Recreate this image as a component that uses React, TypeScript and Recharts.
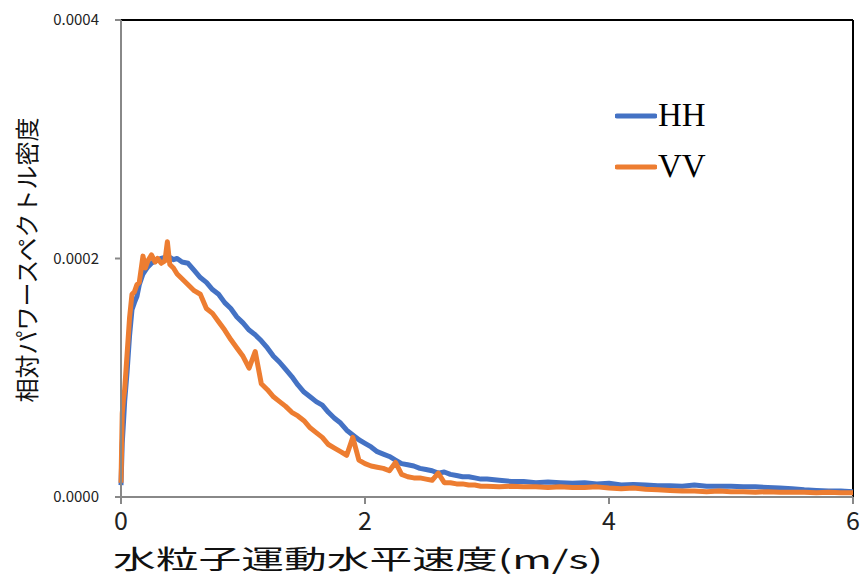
import React from 'react';
import { LineChart, Line, XAxis, YAxis, ReferenceLine, Legend, Label } from 'recharts';

// horizontal velocity (m/s)
const velocity = [
  0, 0.01, 0.02, 0.03, 0.05, 0.07, 0.09, 0.11, 0.13, 0.15, 0.18, 0.2, 0.22, 0.25, 0.28, 0.3, 0.33, 0.36, 0.38, 0.4,
  0.43, 0.46, 0.5, 0.55, 0.6, 0.65, 0.7, 0.75, 0.8, 0.85, 0.9, 0.95, 1.0, 1.05, 1.1, 1.15, 1.2, 1.25, 1.3, 1.35,
  1.4, 1.45, 1.5, 1.55, 1.6, 1.65, 1.7, 1.75, 1.8, 1.85, 1.9, 1.95, 2.0, 2.05, 2.1, 2.15, 2.2, 2.25, 2.3, 2.35,
  2.4, 2.45, 2.5, 2.55, 2.6, 2.65, 2.7, 2.75, 2.8, 2.85, 2.9, 2.95, 3.0, 3.1, 3.2, 3.3, 3.4, 3.5, 3.6, 3.7,
  3.8, 3.9, 4.0, 4.1, 4.2, 4.3, 4.4, 4.5, 4.6, 4.7, 4.8, 4.9, 5.0, 5.1, 5.2, 5.3, 5.4, 5.5, 5.6, 5.7,
  5.8, 5.9, 6.0,
];

// relative power spectral density, in units of 1e-4
const hh = [
  0.1, 0.45, 0.62, 0.8, 1.05, 1.35, 1.57, 1.63, 1.68, 1.78, 1.87, 1.9, 1.93, 1.96, 1.98, 1.99, 2.0, 2.01, 2.0, 2.01,
  1.99, 2.0, 1.97, 1.96, 1.9, 1.84, 1.8, 1.74, 1.7, 1.63, 1.58, 1.51, 1.46, 1.4, 1.36, 1.31, 1.25, 1.18, 1.13, 1.07,
  1.01, 0.94, 0.88, 0.84, 0.8, 0.77, 0.71, 0.66, 0.62, 0.56, 0.52, 0.48, 0.45, 0.42, 0.38, 0.36, 0.34, 0.31, 0.28, 0.27,
  0.26, 0.24, 0.23, 0.22, 0.2, 0.21, 0.19, 0.18, 0.17, 0.17, 0.16, 0.15, 0.15, 0.14, 0.13, 0.13, 0.12, 0.125, 0.12, 0.115,
  0.12, 0.11, 0.115, 0.1, 0.105, 0.1, 0.095, 0.095, 0.09, 0.1, 0.09, 0.09, 0.09, 0.085, 0.085, 0.08, 0.075, 0.07, 0.06, 0.055,
  0.05, 0.05, 0.045,
];

const vv = [
  0.12, 0.7, 0.82, 0.9, 1.2, 1.5, 1.7, 1.72, 1.78, 1.8, 2.02, 1.92, 1.98, 2.03, 1.97, 2.0, 1.96, 1.98, 2.14, 1.95,
  1.92, 1.87, 1.83, 1.78, 1.73, 1.7, 1.58, 1.54, 1.47, 1.4, 1.32, 1.25, 1.18, 1.08, 1.22, 0.95, 0.9, 0.84, 0.8, 0.76,
  0.71, 0.68, 0.64, 0.58, 0.54, 0.5, 0.44, 0.41, 0.38, 0.35, 0.5, 0.31, 0.28, 0.26, 0.25, 0.24, 0.22, 0.29, 0.19, 0.17,
  0.16, 0.16, 0.15, 0.14, 0.2, 0.12, 0.12, 0.11, 0.11, 0.1, 0.1, 0.09, 0.09, 0.085, 0.09, 0.085, 0.085, 0.08, 0.085, 0.08,
  0.08, 0.085, 0.075, 0.07, 0.075, 0.065, 0.06, 0.055, 0.05, 0.05, 0.045, 0.05, 0.045, 0.045, 0.04, 0.045, 0.04, 0.04, 0.04, 0.035,
  0.04, 0.035, 0.035,
];

const xTicks = [0, 2, 4, 6];
const yTicks = [0, 0.0002, 0.0004];

const data = velocity.map((v, i) => ({ v, HH: hh[i] * 1e-4, VV: vv[i] * 1e-4 }));

const BLUE = '#4472C4';
const ORANGE = '#ED7D31';
const SANS = '"Noto Sans CJK JP", "Noto Sans", sans-serif';

const LegendBox = () => (
  <div style={{ fontFamily: '"Liberation Serif", "DejaVu Serif", serif' }}>
    {[
      { name: 'HH', color: BLUE },
      { name: 'VV', color: ORANGE },
    ].map((s) => (
      <div key={s.name} style={{ display: 'flex', alignItems: 'center', height: 51 }}>
        <svg width={42} height={10}>
          <line x1={2} y1={5} x2={40} y2={5} stroke={s.color} strokeWidth={5} strokeLinecap="round" />
        </svg>
        <span style={{ fontSize: 33, color: '#000', marginLeft: 1 }}>{s.name}</span>
      </div>
    ))}
  </div>
);

export default function App() {
  return (
    <div style={{ position: 'absolute', left: 0, top: 0, width: 862, height: 576, background: '#fff' }}>
      <LineChart width={862} height={576} data={data} margin={{ top: 20, right: 9, bottom: 39, left: 21 }}>
        <XAxis
          dataKey="v"
          type="number"
          domain={[0, 6]}
          ticks={xTicks}
          height={40}
          stroke="#888"
          strokeWidth={2}
          tickSize={7}
          tickMargin={8}
          tick={{ fill: '#222', fontSize: 25, fontFamily: SANS }}
        >
          <Label
            content={() => (
              <text
                x={113}
                y={569}
                fontSize={26}
                fontFamily={SANS}
                fill="#111"
                textLength={490}
                lengthAdjust="spacingAndGlyphs"
              >
                水粒子運動水平速度(m/s)
              </text>
            )}
          />
        </XAxis>
        <YAxis
          type="number"
          domain={[0, 0.0004]}
          ticks={yTicks}
          width={100}
          stroke="#888"
          strokeWidth={2}
          tickSize={6}
          tickMargin={16}
          tickFormatter={(t: number) => t.toFixed(4)}
          tick={{ fill: '#222', fontSize: 15, fontFamily: SANS }}
        >
          <Label
            content={() => (
              <text
                x={25}
                y={260}
                transform="rotate(-90 25 260)"
                textAnchor="middle"
                dominantBaseline="central"
                fontSize={24}
                fontFamily={SANS}
                fill="#111"
              >
                相対パワースペクトル密度
              </text>
            )}
          />
        </YAxis>
        <ReferenceLine y={0.0004} stroke="#000" strokeWidth={2} />
        <ReferenceLine x={6} stroke="#000" strokeWidth={2} />
        <Legend
          layout="vertical"
          verticalAlign="middle"
          align="center"
          content={() => <LegendBox />}
          wrapperStyle={{ left: 615, top: 90, width: 120 }}
        />
        <Line
          dataKey="HH"
          stroke={BLUE}
          strokeWidth={5}
          dot={false}
          type="linear"
          strokeLinejoin="round"
          isAnimationActive={false}
        />
        <Line
          dataKey="VV"
          stroke={ORANGE}
          strokeWidth={5}
          dot={false}
          type="linear"
          strokeLinejoin="round"
          isAnimationActive={false}
        />
      </LineChart>
    </div>
  );
}
